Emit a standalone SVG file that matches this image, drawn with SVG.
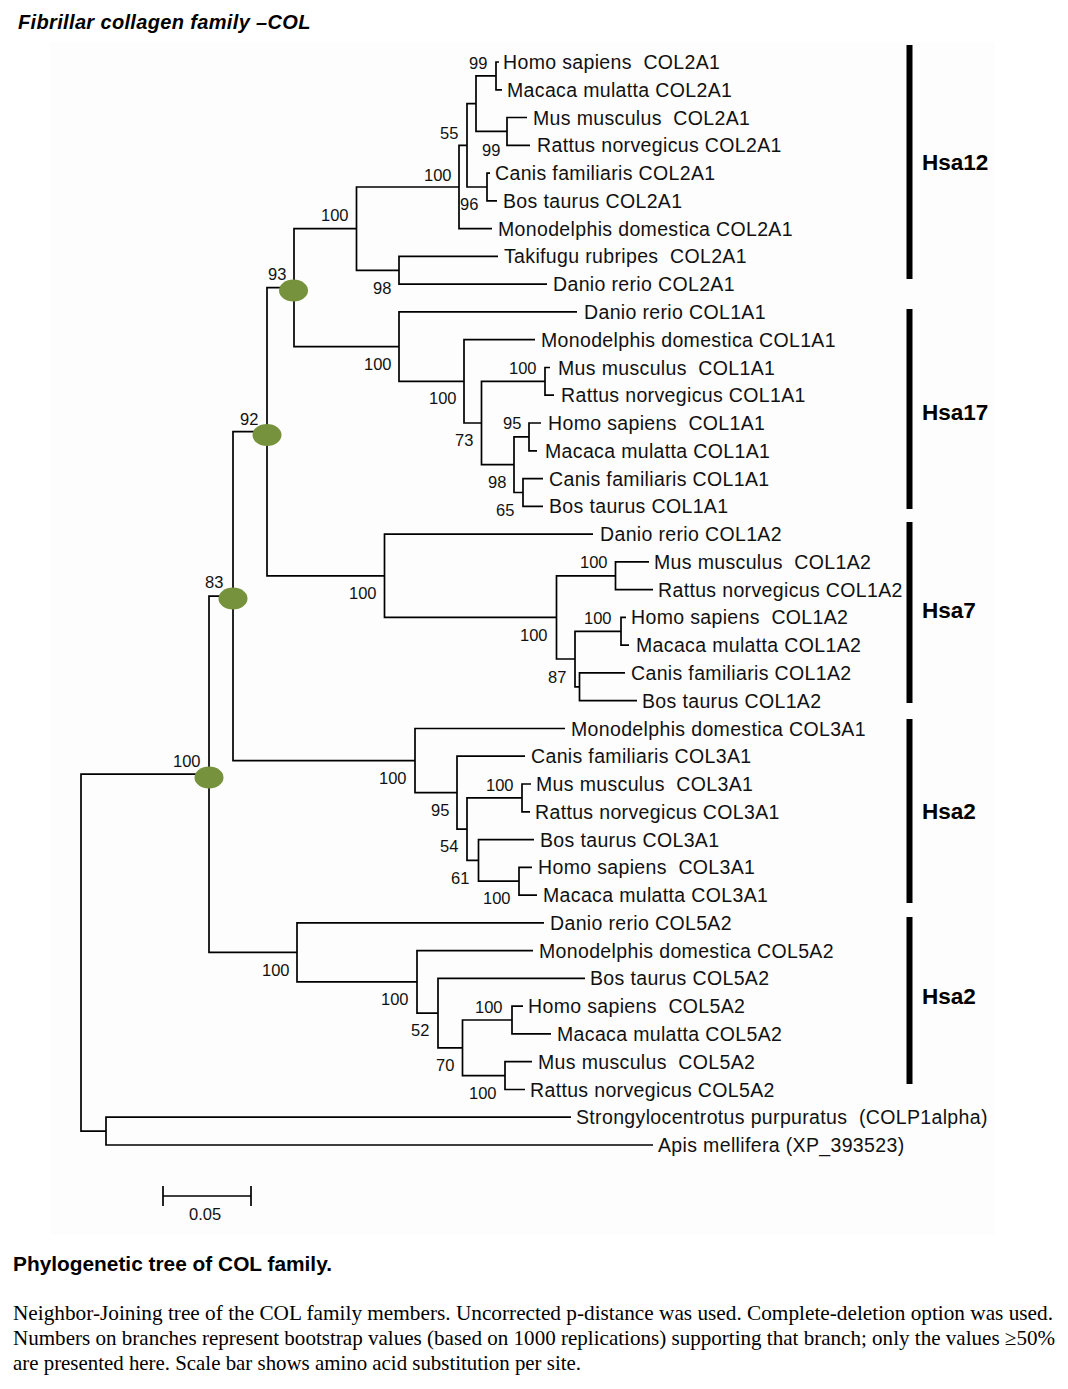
<svg xmlns="http://www.w3.org/2000/svg" width="1068" height="1389" viewBox="0 0 1068 1389">
<style>
.lbl{font-family:"Liberation Sans",Arial,sans-serif;font-size:19.5px;letter-spacing:0.35px;fill:#111;white-space:pre}
.bs{font-family:"Liberation Sans",Arial,sans-serif;font-size:16.5px;fill:#111}
.hsa{font-family:"Liberation Sans",Arial,sans-serif;font-size:22.5px;font-weight:bold;fill:#000}
.br{fill:none;stroke:#000;stroke-width:1.7}
.dot{fill:#76923c}
.bar{fill:#000}
.title{font-family:"Liberation Sans",Arial,sans-serif;font-size:20px;font-weight:bold;font-style:italic;letter-spacing:0.35px}
.cap{font-family:"Liberation Sans",Arial,sans-serif;font-size:21px;font-weight:bold}
.body{font-family:"Liberation Serif","Times New Roman",serif;font-size:21px}
</style>
<rect x="0" y="0" width="1068" height="1389" fill="#fff"/>
<rect x="50" y="42" width="945" height="1193" fill="#fdfdfd"/>
<text class="title" x="18" y="29">Fibrillar collagen family –COL</text>

<g id="connectors">
<path class="br" d="M81 952.7V774.2H209M81 952.7V1131.1H106"/>
<path class="br" d="M106 1131.1V1117.2H571M106 1131.1V1145H653"/>
<path class="br" d="M209 774.2V596.1H233M209 774.2V952.4H297"/>
<path class="br" d="M233 596.1V431.7H267M233 596.1V760.6H415"/>
<path class="br" d="M267 431.7V287.6H294M267 431.7V575.8H384.5"/>
<path class="br" d="M294 287.6V228.6H356.5M294 287.6V346.6H399"/>
<path class="br" d="M356.5 228.6V187H459M356.5 228.6V270.3H399"/>
<path class="br" d="M459 187V145.3H467M459 187V228.6H492"/>
<path class="br" d="M467 145.3V103.7H476M467 145.3V187H487"/>
<path class="br" d="M476 103.7V75.9H496M476 103.7V131.4H507"/>
<path class="br" d="M496 75.9V62H499M496 75.9V89.8H502"/>
<path class="br" d="M507 131.4V117.5H527M507 131.4V145.3H530"/>
<path class="br" d="M487 187V173.1H490M487 187V200.9H497"/>
<path class="br" d="M399 270.3V256.4H498M399 270.3V284.2H547"/>
<path class="br" d="M399 346.6V311.9H577M399 346.6V381.4H464"/>
<path class="br" d="M464 381.4V339.7H535M464 381.4V423H481.5"/>
<path class="br" d="M481.5 423V381.4H545M481.5 423V464.7H514"/>
<path class="br" d="M545 381.4V367.5H550M545 381.4V395.2H554"/>
<path class="br" d="M514 464.7V436.9H529M514 464.7V492.5H523"/>
<path class="br" d="M529 436.9V423H541M529 436.9V450.8H537"/>
<path class="br" d="M523 492.5V478.6H543M523 492.5V506.3H543"/>
<path class="br" d="M384.5 575.8V534.1H593M384.5 575.8V617.4H556.5"/>
<path class="br" d="M556.5 617.4V575.8H615.5M556.5 617.4V659H575"/>
<path class="br" d="M615.5 575.8V561.9H649M615.5 575.8V589.6H653"/>
<path class="br" d="M575 659V631.3H621M575 659V686.8H579.5"/>
<path class="br" d="M621 631.3V617.4H626M621 631.3V645.2H629"/>
<path class="br" d="M579.5 686.8V672.9H625M579.5 686.8V700.7H637"/>
<path class="br" d="M415 760.6V728.5H565M415 760.6V792.7H457"/>
<path class="br" d="M457 792.7V756.2H525M457 792.7V829.1H467"/>
<path class="br" d="M467 829.1V797.9H522M467 829.1V860.4H478.5"/>
<path class="br" d="M522 797.9V784H531M522 797.9V811.8H530"/>
<path class="br" d="M478.5 860.4V839.6H534M478.5 860.4V881.2H519"/>
<path class="br" d="M519 881.2V867.3H532M519 881.2V895.1H537"/>
<path class="br" d="M297 952.4V922.9H544M297 952.4V981.9H417"/>
<path class="br" d="M417 981.9V950.6H533M417 981.9V1013.1H438"/>
<path class="br" d="M438 1013.1V978.4H585M438 1013.1V1047.8H462.5"/>
<path class="br" d="M462.5 1047.8V1020H512M462.5 1047.8V1075.6H505"/>
<path class="br" d="M512 1020V1006.2H523M512 1020V1033.9H551"/>
<path class="br" d="M505 1075.6V1061.7H532M505 1075.6V1089.5H525"/>
</g>

<g id="internal-nodes">
<g id="n-root100"><ellipse class="dot" cx="209" cy="777.5" rx="14.5" ry="11"/><text class="bs" x="173" y="767">100</text></g>
<g id="n-83"><ellipse class="dot" cx="233" cy="598.5" rx="14.5" ry="11"/><text class="bs" x="205" y="588">83</text></g>
<g id="n-92"><ellipse class="dot" cx="267" cy="435" rx="14.5" ry="11"/><text class="bs" x="240" y="425">92</text></g>
<g id="n-93"><ellipse class="dot" cx="293.5" cy="290.5" rx="14.5" ry="11"/><text class="bs" x="268" y="280">93</text></g>
<g id="n-col2"><text class="bs" x="321" y="221">100</text></g>
<g id="n-col2-100"><text class="bs" x="424" y="181">100</text></g>
<g id="n-col2-55"><text class="bs" x="440" y="139">55</text></g>
<g id="n-col2-hm"><text class="bs" x="469" y="69">99</text></g>
<g id="n-col2-mr"><text class="bs" x="482" y="156">99</text></g>
<g id="n-col2-cb"><text class="bs" x="460" y="210">96</text></g>
<g id="n-col2-fish"><text class="bs" x="373" y="294">98</text></g>
<g id="n-col1"><text class="bs" x="364" y="370">100</text></g>
<g id="n-col1-100"><text class="bs" x="429" y="404">100</text></g>
<g id="n-col1-mr"><text class="bs" x="509" y="374">100</text></g>
<g id="n-col1-73"><text class="bs" x="455" y="446">73</text></g>
<g id="n-col1-hm"><text class="bs" x="503" y="429">95</text></g>
<g id="n-col1-98"><text class="bs" x="488" y="488">98</text></g>
<g id="n-col1-cb"><text class="bs" x="496" y="516">65</text></g>
<g id="n-col1a2"><text class="bs" x="349" y="599">100</text></g>
<g id="n-col1a2-mr"><text class="bs" x="580" y="568">100</text></g>
<g id="n-col1a2-100"><text class="bs" x="520" y="641">100</text></g>
<g id="n-col1a2-hm"><text class="bs" x="584" y="624">100</text></g>
<g id="n-col1a2-87"><text class="bs" x="548" y="683">87</text></g>
<g id="n-col3"><text class="bs" x="379" y="784">100</text></g>
<g id="n-col3-95"><text class="bs" x="431" y="816">95</text></g>
<g id="n-col3-mr"><text class="bs" x="486" y="791">100</text></g>
<g id="n-col3-54"><text class="bs" x="440" y="852">54</text></g>
<g id="n-col3-61"><text class="bs" x="451" y="884">61</text></g>
<g id="n-col3-hm"><text class="bs" x="483" y="904">100</text></g>
<g id="n-col5"><text class="bs" x="262" y="976">100</text></g>
<g id="n-col5-100"><text class="bs" x="381" y="1005">100</text></g>
<g id="n-col5-52"><text class="bs" x="411" y="1036">52</text></g>
<g id="n-col5-hm"><text class="bs" x="475" y="1013">100</text></g>
<g id="n-col5-70"><text class="bs" x="436" y="1071">70</text></g>
<g id="n-col5-mr"><text class="bs" x="469" y="1099">100</text></g>
</g>

<g id="leaves">
<g id="leaf-homo-col2a1"><text class="lbl" x="503" y="69">Homo sapiens  COL2A1</text></g>
<g id="leaf-macaca-col2a1"><text class="lbl" x="507" y="97">Macaca mulatta COL2A1</text></g>
<g id="leaf-mus-col2a1"><text class="lbl" x="533" y="124.5">Mus musculus  COL2A1</text></g>
<g id="leaf-rattus-col2a1"><text class="lbl" x="537" y="152.3">Rattus norvegicus COL2A1</text></g>
<g id="leaf-canis-col2a1"><text class="lbl" x="495" y="180.1">Canis familiaris COL2A1</text></g>
<g id="leaf-bos-col2a1"><text class="lbl" x="503" y="207.9">Bos taurus COL2A1</text></g>
<g id="leaf-mono-col2a1"><text class="lbl" x="498" y="235.6">Monodelphis domestica COL2A1</text></g>
<g id="leaf-taki-col2a1"><text class="lbl" x="504" y="263.4">Takifugu rubripes  COL2A1</text></g>
<g id="leaf-danio-col2a1"><text class="lbl" x="553" y="291.2">Danio rerio COL2A1</text></g>
<g id="leaf-danio-col1a1"><text class="lbl" x="584" y="318.9">Danio rerio COL1A1</text></g>
<g id="leaf-mono-col1a1"><text class="lbl" x="541" y="346.7">Monodelphis domestica COL1A1</text></g>
<g id="leaf-mus-col1a1"><text class="lbl" x="558" y="374.5">Mus musculus  COL1A1</text></g>
<g id="leaf-rattus-col1a1"><text class="lbl" x="561" y="402.2">Rattus norvegicus COL1A1</text></g>
<g id="leaf-homo-col1a1"><text class="lbl" x="548" y="430">Homo sapiens  COL1A1</text></g>
<g id="leaf-macaca-col1a1"><text class="lbl" x="545" y="457.8">Macaca mulatta COL1A1</text></g>
<g id="leaf-canis-col1a1"><text class="lbl" x="549" y="485.6">Canis familiaris COL1A1</text></g>
<g id="leaf-bos-col1a1"><text class="lbl" x="549" y="513.3">Bos taurus COL1A1</text></g>
<g id="leaf-danio-col1a2"><text class="lbl" x="600" y="541.1">Danio rerio COL1A2</text></g>
<g id="leaf-mus-col1a2"><text class="lbl" x="654" y="568.9">Mus musculus  COL1A2</text></g>
<g id="leaf-rattus-col1a2"><text class="lbl" x="658" y="596.6">Rattus norvegicus COL1A2</text></g>
<g id="leaf-homo-col1a2"><text class="lbl" x="631" y="624.4">Homo sapiens  COL1A2</text></g>
<g id="leaf-macaca-col1a2"><text class="lbl" x="636" y="652.2">Macaca mulatta COL1A2</text></g>
<g id="leaf-canis-col1a2"><text class="lbl" x="631" y="679.9">Canis familiaris COL1A2</text></g>
<g id="leaf-bos-col1a2"><text class="lbl" x="642" y="707.7">Bos taurus COL1A2</text></g>
<g id="leaf-mono-col3a1"><text class="lbl" x="571" y="735.5">Monodelphis domestica COL3A1</text></g>
<g id="leaf-canis-col3a1"><text class="lbl" x="531" y="763.2">Canis familiaris COL3A1</text></g>
<g id="leaf-mus-col3a1"><text class="lbl" x="536" y="791">Mus musculus  COL3A1</text></g>
<g id="leaf-rattus-col3a1"><text class="lbl" x="535" y="818.8">Rattus norvegicus COL3A1</text></g>
<g id="leaf-bos-col3a1"><text class="lbl" x="540" y="846.6">Bos taurus COL3A1</text></g>
<g id="leaf-homo-col3a1"><text class="lbl" x="538" y="874.3">Homo sapiens  COL3A1</text></g>
<g id="leaf-macaca-col3a1"><text class="lbl" x="543" y="902.1">Macaca mulatta COL3A1</text></g>
<g id="leaf-danio-col5a2"><text class="lbl" x="550" y="929.9">Danio rerio COL5A2</text></g>
<g id="leaf-mono-col5a2"><text class="lbl" x="539" y="957.6">Monodelphis domestica COL5A2</text></g>
<g id="leaf-bos-col5a2"><text class="lbl" x="590" y="985.4">Bos taurus COL5A2</text></g>
<g id="leaf-homo-col5a2"><text class="lbl" x="528" y="1013.2">Homo sapiens  COL5A2</text></g>
<g id="leaf-macaca-col5a2"><text class="lbl" x="557" y="1040.9">Macaca mulatta COL5A2</text></g>
<g id="leaf-mus-col5a2"><text class="lbl" x="538" y="1068.7">Mus musculus  COL5A2</text></g>
<g id="leaf-rattus-col5a2"><text class="lbl" x="530" y="1096.5">Rattus norvegicus COL5A2</text></g>
<g id="leaf-strongylocentrotus"><text class="lbl" x="576" y="1124.2">Strongylocentrotus purpuratus  (COLP1alpha)</text></g>
<g id="leaf-apis"><text class="lbl" x="658" y="1152">Apis mellifera (XP_393523)</text></g>
</g>

<g id="clades">
<g id="clade-hsa12"><rect class="bar" x="906.5" y="45" width="6" height="234"/><text class="hsa" x="922" y="170">Hsa12</text></g>
<g id="clade-hsa17"><rect class="bar" x="906.5" y="309" width="6" height="200"/><text class="hsa" x="922" y="420">Hsa17</text></g>
<g id="clade-hsa7"><rect class="bar" x="906.5" y="522" width="6" height="181"/><text class="hsa" x="922" y="618">Hsa7</text></g>
<g id="clade-hsa2a"><rect class="bar" x="906.5" y="719" width="6" height="184"/><text class="hsa" x="922" y="819">Hsa2</text></g>
<g id="clade-hsa2b"><rect class="bar" x="906.5" y="917" width="6" height="167"/><text class="hsa" x="922" y="1004">Hsa2</text></g>
</g>

<g id="scale-bar">
<path class="br" d="M163 1196H251M163 1186V1206M251 1186V1206" stroke-width="2"/>
<text class="bs" x="189" y="1219.5">0.05</text>
</g>

<text class="cap" x="13" y="1271" textLength="319" lengthAdjust="spacingAndGlyphs">Phylogenetic tree of COL family.</text>
<text class="body" x="13" y="1320" textLength="1040" lengthAdjust="spacingAndGlyphs">Neighbor-Joining tree of the COL family members. Uncorrected p-distance was used. Complete-deletion option was used.</text>
<text class="body" x="13" y="1345" textLength="1042" lengthAdjust="spacingAndGlyphs">Numbers on branches represent bootstrap values (based on 1000 replications) supporting that branch; only the values ≥50%</text>
<text class="body" x="13" y="1370" textLength="568" lengthAdjust="spacingAndGlyphs">are presented here. Scale bar shows amino acid substitution per site.</text>
</svg>
